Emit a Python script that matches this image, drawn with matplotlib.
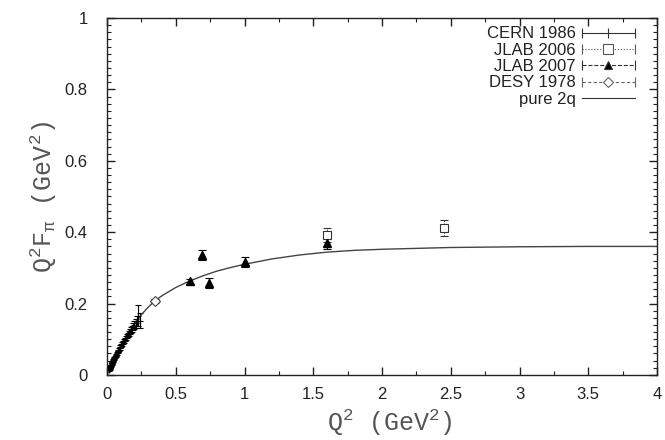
import matplotlib
matplotlib.use("Agg")
import matplotlib.pyplot as plt
from matplotlib.ticker import MultipleLocator
from matplotlib.lines import Line2D
from matplotlib.legend_handler import HandlerBase

plt.rcParams['mathtext.fontset'] = 'custom'
plt.rcParams['mathtext.rm'] = 'Liberation Mono'
plt.rcParams['mathtext.it'] = 'Liberation Mono'

# CERN 1986
cern_q2 = [0.015, 0.018, 0.021, 0.024, 0.027, 0.030, 0.033, 0.036, 0.039, 0.042,
           0.046, 0.050, 0.054, 0.058, 0.062, 0.066, 0.071, 0.076, 0.081, 0.086,
           0.091, 0.097, 0.103, 0.109, 0.115, 0.121, 0.128, 0.135, 0.142, 0.149,
           0.157, 0.165, 0.173, 0.181, 0.190, 0.199, 0.208, 0.217, 0.227, 0.237]
cern_f = [0.014, 0.017, 0.020, 0.022, 0.025, 0.027, 0.030, 0.032, 0.035, 0.037,
          0.041, 0.044, 0.047, 0.050, 0.053, 0.056, 0.060, 0.064, 0.067, 0.071,
          0.075, 0.079, 0.083, 0.087, 0.091, 0.095, 0.099, 0.104, 0.108, 0.112,
          0.117, 0.121, 0.126, 0.129, 0.135, 0.139, 0.144, 0.150, 0.166, 0.152]
cern_err = [0.002, 0.002, 0.002, 0.002, 0.002, 0.002, 0.002, 0.002, 0.002, 0.002,
            0.003, 0.003, 0.003, 0.003, 0.003, 0.003, 0.003, 0.003, 0.004, 0.004,
            0.004, 0.004, 0.004, 0.005, 0.005, 0.005, 0.005, 0.006, 0.006, 0.006,
            0.007, 0.007, 0.008, 0.008, 0.010, 0.011, 0.012, 0.014, 0.030, 0.022]

# JLAB 2006
jlab06_q2 = [1.60, 2.45]
jlab06_f = [0.392, 0.411]
jlab06_err = [0.020, 0.022]

# JLAB 2007
jlab07_q2 = [0.60, 0.69, 0.745, 1.00, 1.60]
jlab07_f = [0.262, 0.336, 0.258, 0.315, 0.369]
jlab07_err = [0.008, 0.014, 0.014, 0.014, 0.016]

# DESY 1978
desy_q2 = [0.35]
desy_f = [0.208]
desy_err = [0.006]

# pure 2q curve
curve_q2 = [0.0, 0.05, 0.1, 0.15, 0.2, 0.25, 0.3, 0.35, 0.4, 0.5, 0.6, 0.7, 0.8,
            0.9, 1.0, 1.2, 1.4, 1.6, 1.8, 2.0, 2.5, 3.0, 3.5, 4.0]
curve_f = [0.0, 0.040, 0.079, 0.114, 0.144, 0.169, 0.190, 0.208, 0.222, 0.245,
           0.263, 0.278, 0.291, 0.301, 0.310, 0.325, 0.336, 0.344, 0.349, 0.352,
           0.357, 0.359, 0.360, 0.360]

legend_labels = ['CERN 1986', 'JLAB 2006', 'JLAB 2007', 'DESY 1978', 'pure 2q']


class ErrBarHandler(HandlerBase):
    def __init__(self, ls, marker, mfc, ms, color, caps=True):
        super().__init__()
        self.ls, self.marker, self.mfc, self.ms = ls, marker, mfc, ms
        self.color, self.caps = color, caps

    def create_artists(self, legend, orig_handle, xdescent, ydescent, width,
                       height, fontsize, trans):
        y = height / 2 - ydescent
        x0, x1 = -xdescent, width - xdescent
        arts = [Line2D([x0, x1], [y, y], ls=self.ls, color=self.color, lw=0.8,
                       transform=trans)]
        if self.caps:
            arts.append(Line2D([x0, x1], [y, y], ls='none', marker='|', ms=7,
                               mew=0.8, color=self.color, transform=trans))
        if self.marker:
            arts.append(Line2D([(x0 + x1) / 2], [y], ls='none', marker=self.marker,
                               mfc=self.mfc, mec=self.color, ms=self.ms, mew=0.8,
                               transform=trans))
        return arts


fig = plt.figure(figsize=(6.65, 4.4), dpi=100)
ax = fig.add_axes([0.161, 0.148, 0.827, 0.811])

ax.errorbar(cern_q2, cern_f, yerr=cern_err, fmt='+', color='black', ms=4,
            elinewidth=0.8, capsize=2.5, capthick=0.8, markeredgewidth=0.8)
eb = ax.errorbar(jlab06_q2, jlab06_f, yerr=jlab06_err, fmt='s', mfc='white',
                 mec='#333333', color='#333333', ms=6, markeredgewidth=0.8,
                 elinewidth=0.8, capsize=3, capthick=0.8)
eb[2][0].set_linestyle(':')
eb = ax.errorbar(jlab07_q2, jlab07_f, yerr=jlab07_err, fmt='^', color='black',
                 ms=6, elinewidth=0.8, capsize=3, capthick=0.8)
eb[2][0].set_linestyle('--')
eb = ax.errorbar(desy_q2, desy_f, yerr=desy_err, fmt='D', mfc='white',
                 mec='#444444', color='#444444', ms=5, markeredgewidth=0.8,
                 elinewidth=0.8, capsize=3, capthick=0.8)
eb[2][0].set_linestyle('-.')
ax.plot(curve_q2, curve_f, '-', color='#444444', lw=1.0)

ax.set_xlim(0, 4)
ax.set_ylim(0, 1)
ax.xaxis.set_minor_locator(MultipleLocator(0.25))
ax.yaxis.set_minor_locator(MultipleLocator(0.02))
ax.set_xticks([0, 0.5, 1, 1.5, 2, 2.5, 3, 3.5, 4])
ax.set_xticklabels(['0', '0.5', '1', '1.5', '2', '2.5', '3', '3.5', '4'],
                   fontfamily='Liberation Sans')
ax.set_yticks([0, 0.2, 0.4, 0.6, 0.8, 1.0])
ax.set_yticklabels(['0', '0.2', '0.4', '0.6', '0.8', '1'],
                   fontfamily='Liberation Sans')
ax.tick_params(which='both', direction='in', top=True, right=True,
               colors='#222222', labelsize=12)
ax.tick_params(which='major', length=6, width=1)
ax.tick_params(axis='x', which='major', pad=9)
ax.tick_params(axis='y', which='major', pad=14)
ax.tick_params(which='minor', length=3, width=0.8)
for s in ax.spines.values():
    s.set_color('#222222')
    s.set_linewidth(1)

ax.set_xlabel(r'Q$^2$ (GeV$^2$)', fontfamily='Liberation Mono', fontsize=18,
              color='#555555', labelpad=-2)
ax.set_ylabel(r'Q$^2$F$_π$ (GeV$^2$)', fontfamily='Liberation Mono', fontsize=18,
              color='#555555', labelpad=4)
ax.xaxis.set_label_coords(0.515, -0.09)

handles = [Line2D([], []) for _ in legend_labels]
hmap = {
    handles[0]: ErrBarHandler('-', '|', 'black', 7, '#333333'),
    handles[1]: ErrBarHandler(':', 's', 'white', 7, '#555555'),
    handles[2]: ErrBarHandler('--', '^', 'black', 6, '#333333'),
    handles[3]: ErrBarHandler((0, (3, 2)), 'D', 'white', 5, '#666666'),
    handles[4]: ErrBarHandler('-', None, 'black', 0, '#333333', caps=False),
}
leg = ax.legend(handles, legend_labels, handler_map=hmap, loc='upper right',
                bbox_to_anchor=(0.972, 0.995), markerfirst=False, frameon=False,
                prop={'family': 'Liberation Sans', 'size': 12},
                handlelength=3.2, labelspacing=0.08, borderaxespad=0.0,
                handletextpad=0.35)
for t in leg.get_texts():
    t.set_ha('right')
    t.set_color('#222222')

fig.savefig('out.png', dpi=100)
